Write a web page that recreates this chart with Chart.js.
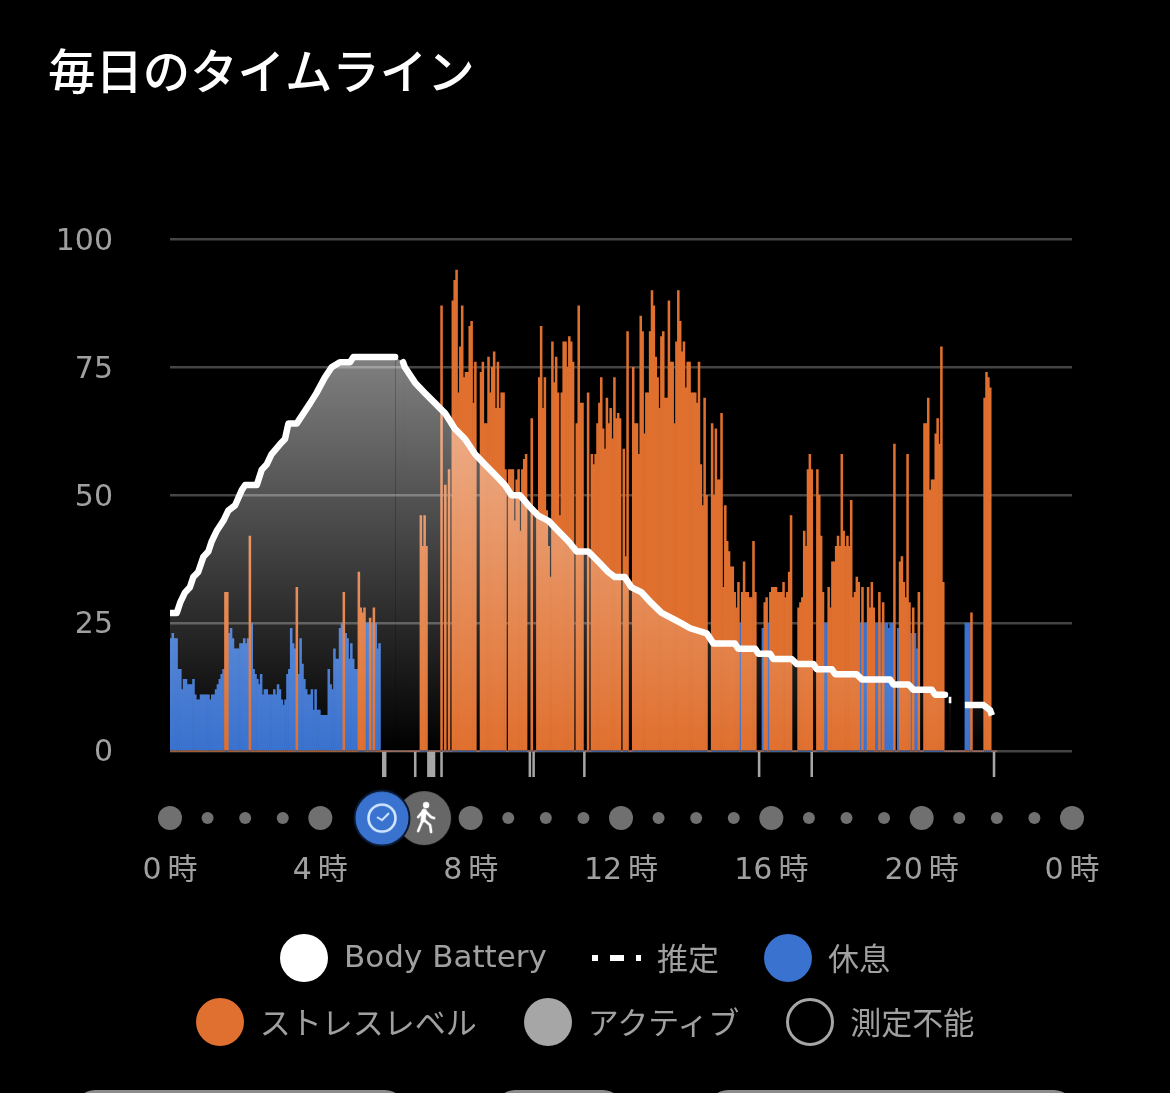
<!DOCTYPE html>
<html lang="ja">
<head>
<meta charset="utf-8">
<title>毎日のタイムライン</title>
<script src="https://cdn.jsdelivr.net/npm/chart.js@4/dist/chart.umd.min.js"></script>
<style>
  html, body { margin: 0; padding: 0; background: #000; }
  #page { position: relative; width: 1170px; height: 1093px; overflow: hidden; background: #000; }
  #chart { position: absolute; left: 0; top: 0; }
  .legend-row { position: absolute; left: 0; width: 1170px; display: flex; justify-content: center; align-items: center; gap: 47px; height: 48px;
    font: 31px "DejaVu Sans", "Noto Sans CJK JP", sans-serif; color: #a0a0a0; white-space: nowrap; }
  #legendRow1 { gap: 45px; }
  .legend-item { display: flex; align-items: center; gap: 16px; }
  .legend-item span { position: relative; top: -2px; }
  .legend-dot { width: 48px; height: 48px; border-radius: 50%; box-sizing: border-box; }
  .legend-dash { display: flex; align-items: center; width: 49px; justify-content: space-between; }
  .legend-dash i { display: block; height: 6px; background: #fff; }
  .pill { position: absolute; top: 1090px; height: 40px; border-radius: 24px; background: #8c8c8c; }
</style>
</head>
<body>
<div id="page">
  <canvas id="chart" width="1170" height="1093"></canvas>
  <div class="legend-row" id="legendRow1" style="top:934px"></div>
  <div class="legend-row" id="legendRow2" style="top:998px"></div>
  <div class="pill" style="left:75px;width:330px"></div>
  <div class="pill" style="left:495px;width:128px"></div>
  <div class="pill" style="left:708px;width:366px"></div>
</div>
<script>
// Chart values, one row per hour, one value every 3 minutes
const stressValues = [
  0,0,0,0,0,0,0,0,0,0,0,0,0,0,0,0,0,0,0,0,
  0,0,0,0,0,0,0,0,0,31,31,0,0,0,0,0,0,0,0,0,
  0,0,42,0,0,0,0,0,0,0,0,0,0,0,0,0,0,0,0,0,
  0,0,0,0,0,0,0,32,0,0,0,0,0,0,0,0,0,0,0,0,
  0,0,0,0,0,0,0,0,0,0,0,0,31,0,0,0,0,0,0,0,
  35,28,27,28,0,0,26,0,28,0,0,0,0,0,0,0,0,0,0,0,
  0,0,0,0,0,0,0,0,0,0,0,0,0,46,40,46,40,0,0,0,
  0,0,0,0,87,0,52,0,55,0,88,92,94,70,79,87,73,74,74,83,
  84,68,76,0,0,74,76,64,64,77,70,75,78,67,76,67,70,70,55,0,
  55,55,55,45,53,55,43,55,57,58,0,0,65,0,0,47,73,83,67,73,
  47,40,34,80,72,77,70,46,70,80,80,75,81,80,76,0,64,87,68,68,
  0,0,70,0,58,56,58,64,68,73,63,59,69,64,67,61,73,65,66,65,
  0,59,38,82,0,0,75,64,64,58,85,82,62,70,70,82,90,87,77,73,
  67,81,82,69,69,88,76,76,64,80,90,84,78,80,71,76,76,70,70,70,
  68,76,56,48,69,50,0,0,64,50,63,53,53,66,32,48,41,39,36,36,
  31,28,33,0,31,37,31,31,30,30,41,31,0,0,0,0,29,30,0,31,
  32,32,32,31,31,31,33,30,31,35,46,0,0,0,28,29,30,43,40,55,
  58,55,0,0,55,50,42,31,0,0,32,28,37,37,40,42,40,58,43,40,
  42,40,49,30,31,34,33,0,32,0,0,32,28,33,28,0,0,31,0,29,
  0,0,0,0,0,60,0,0,37,38,33,30,58,29,0,28,0,0,31,0,
  0,64,64,69,51,53,53,62,65,60,79,33,0,0,0,0,0,0,0,0,
  0,0,0,0,0,0,27,0,0,0,0,0,0,69,74,73,71,0,0,0
];

const restValues = [
  22,23,22,22,16,16,12,14,14,13,13,13,14,11,10,10,11,11,11,11,
  11,10,11,11,12,13,14,15,16,0,0,23,24,22,20,20,20,21,21,22,
  21,22,0,25,16,15,14,13,15,11,12,12,11,11,11,12,11,13,12,10,
  9,10,15,16,24,21,20,0,15,22,17,14,12,11,11,12,8,12,8,8,
  7,7,7,7,16,13,12,20,18,18,24,25,0,23,22,18,21,18,16,16,
  0,0,0,0,25,25,0,25,0,25,20,21,0,0,0,0,0,0,0,0,
  0,0,0,0,0,0,0,0,0,0,0,0,0,0,0,0,0,0,0,0,
  0,0,0,0,0,0,0,0,0,0,0,0,0,0,0,0,0,0,0,0,
  0,0,0,0,0,0,0,0,0,0,0,0,0,0,0,0,0,0,0,0,
  0,0,0,0,0,0,0,0,0,0,0,0,0,0,0,0,0,0,0,0,
  0,0,0,0,0,0,0,0,0,0,0,0,0,0,0,0,0,0,0,0,
  0,0,0,0,0,0,0,0,0,0,0,0,0,0,0,0,0,0,0,0,
  0,0,0,0,0,0,0,0,0,0,0,0,0,0,0,0,0,0,0,0,
  0,0,0,0,0,0,0,0,0,0,0,0,0,0,0,0,0,0,0,0,
  0,0,0,0,0,0,0,0,0,0,0,0,0,0,0,0,0,0,0,0,
  0,0,0,25,0,0,0,0,0,0,0,0,0,0,0,24,0,0,25,0,
  0,0,0,0,0,0,0,0,0,0,0,0,0,0,0,0,0,0,0,0,
  0,0,0,0,0,0,0,0,25,25,0,0,0,0,0,0,0,0,0,0,
  0,0,0,0,0,0,0,25,0,25,25,0,0,0,0,25,25,0,25,0,
  25,25,24,25,25,0,0,24,0,0,0,0,0,0,23,0,23,20,0,0,
  0,0,0,0,0,0,0,0,0,0,0,0,0,0,0,0,0,0,0,0,
  0,0,0,25,25,25,0,0,0,0,0,0,0,0,0,0,0,0,0,0
];

// Body Battery line
const batteryHours = [0,0.18,0.27,0.4,0.53,0.62,0.75,0.89,1.02,1.11,1.24,1.42,1.55,1.73,1.91,2,2.31,2.44,2.57,2.7,2.93,3.06,3.15,3.37,3.55,3.73,3.9,4.12,4.3,4.52,4.79,4.88,5.99,6.2,6.25,6.52,6.78,7.05,7.32,7.58,7.85,8.12,8.38,8.65,8.91,9.09,9.31,9.54,9.8,10.07,10.33,10.6,10.82,11.13,11.4,11.66,11.84,12.1,12.28,12.55,12.8,13.08,13.35,13.6,13.84,14.28,14.46,15.03,15.12,15.57,15.66,15.97,16.05,16.54,16.68,17.12,17.21,17.61,17.7,18.27,18.41,19.16,19.25,19.65,19.78,20.27,20.36,20.62];
const batteryValues = [27,27,29,31,32,34,35,38,39,41,43,45,47,48,51,52,52,55,56,58,60,61,64,64,66,68,70,73,75,76,76,77,77,76,75,72,70,68,66,63,61,58,56,54,52,50,50,48,46,45,43,41,39,39,37,35,34,34,32,31,29,27,26,25,24,23,21,21,20,20,19,19,18,18,17,17,16,16,15,15,14,14,13,13,12,12,11,11];
const batteryGapStart = 5.99;
const estimateHours = [20.72,20.79,21,21.15,21.2,21.64,21.82,21.87];
const estimateValues = [10,10,null,9,9,9,8,7];

// Activity ticks under the axis, and the timeline row below them
const activeBins = [113,114,130,137,138,139,140,144,191,193,220,313,341,438];
const activeLevel = -5;
const timelineLevel = -13.1;
const bigDotHours = [0,4,8,12,16,20,24];
const smallDotHours = [1,2,3,9,10,11,13,14,15,17,18,19,21,22,23];
const iconHours = [6.76,5.64];

const yTickValues = [0,25,50,75,100];
const hourStep = 0.05;

const legendRows = [
  [{ label: 'Body Battery', color: '#fff' }, { label: '推定', dash: true }, { label: '休息', color: '#3a72cf' }],
  [{ label: 'ストレスレベル', color: '#e0702f' }, { label: 'アクティブ', color: '#a6a6a6' }, { label: '測定不能', ring: '#a6a6a6' }]
];

// Helpers
function binPoints(values) {
  return values.map((value, i) => ({ x: (i + 0.5) * hourStep, y: value }));
}

function linePoints(hours, values) {
  return hours.map((hour, i) => ({ x: hour, y: values[i] }));
}

function levelPoints(hours, level) {
  return hours.map((hour) => ({ x: hour, y: level }));
}

// White fade under the Body Battery line
function batteryFill(context) {
  const { ctx, chartArea, scales } = context.chart;
  if (!chartArea) return 'rgba(255,255,255,0.3)';
  const gradient = ctx.createLinearGradient(0, scales.y.getPixelForValue(77), 0, scales.y.getPixelForValue(0));
  gradient.addColorStop(0, 'rgba(255,255,255,0.5)');
  gradient.addColorStop(1, 'rgba(255,255,255,0)');
  return gradient;
}

// Round timeline icons
function makeIconCanvas(draw) {
  const icon = document.createElement('canvas');
  icon.width = 58;
  icon.height = 58;
  const ctx = icon.getContext('2d');
  ctx.translate(29, 29);
  draw(ctx);
  return icon;
}

const walkIcon = makeIconCanvas((ctx) => {
  ctx.fillStyle = '#676767';
  ctx.beginPath();
  ctx.arc(0, 0, 27, 0, Math.PI * 2);
  ctx.fill();
  ctx.fillStyle = '#fff';
  ctx.strokeStyle = '#fff';
  ctx.lineCap = 'round';
  ctx.lineJoin = 'round';
  ctx.beginPath();
  ctx.arc(2, -13, 3.2, 0, Math.PI * 2);
  ctx.fill();
  ctx.lineWidth = 5;
  ctx.beginPath();
  ctx.moveTo(0, -7);
  ctx.lineTo(-1, 2);
  ctx.stroke();
  ctx.lineWidth = 2.6;
  ctx.beginPath();
  ctx.moveTo(-1, 1);
  ctx.lineTo(-6, 13);
  ctx.moveTo(-1, 1);
  ctx.lineTo(6, 7);
  ctx.lineTo(7, 14);
  ctx.moveTo(1, -7);
  ctx.lineTo(7, -1);
  ctx.lineTo(10, 0);
  ctx.moveTo(-1, -7);
  ctx.lineTo(-6, -1);
  ctx.stroke();
});

const clockIcon = makeIconCanvas((ctx) => {
  ctx.fillStyle = '#3a72cf';
  ctx.strokeStyle = '#0b1a33';
  ctx.lineWidth = 2;
  ctx.beginPath();
  ctx.arc(0, 0, 27.5, 0, Math.PI * 2);
  ctx.fill();
  ctx.stroke();
  ctx.strokeStyle = '#cfe6ff';
  ctx.lineWidth = 2.6;
  ctx.beginPath();
  ctx.arc(0, 0, 13.5, 0, Math.PI * 2);
  ctx.stroke();
  ctx.lineWidth = 2;
  ctx.beginPath();
  ctx.moveTo(-5, -1);
  ctx.lineTo(0, 2);
  ctx.lineTo(7, -5);
  ctx.stroke();
});

// Legend
function buildLegend() {
  legendRows.forEach((row, r) => {
    const rowElement = document.getElementById('legendRow' + (r + 1));
    row.forEach((entry) => {
      const item = document.createElement('div');
      item.className = 'legend-item';
      let marker;
      if (entry.dash) {
        marker = document.createElement('div');
        marker.className = 'legend-dash';
        marker.innerHTML = '<i style="width:6px"></i><i style="width:14px"></i><i style="width:5px"></i>';
      } else {
        marker = document.createElement('div');
        marker.className = 'legend-dot';
        if (entry.ring) marker.style.border = '3px solid ' + entry.ring;
        else marker.style.background = entry.color;
      }
      const text = document.createElement('span');
      text.textContent = entry.label;
      item.appendChild(marker);
      item.appendChild(text);
      rowElement.appendChild(item);
    });
  });
}

buildLegend();

const axisFont = { family: '"DejaVu Sans", "Noto Sans CJK JP", sans-serif', size: 30 };

new Chart(document.getElementById('chart').getContext('2d'), {
  data: {
    datasets: [
      {
        type: 'line',
        label: 'Body Battery',
        data: linePoints(batteryHours, batteryValues),
        borderColor: '#fff',
        borderWidth: 6.5,
        borderCapStyle: 'round',
        borderJoinStyle: 'round',
        backgroundColor: batteryFill,
        fill: 'origin',
        tension: 0,
        pointRadius: 0,
        // the line breaks for a moment here but the area under it does not
        segment: { borderColor: (ctx) => (ctx.p0.parsed.x === batteryGapStart ? 'transparent' : undefined) },
        order: 0
      },
      {
        type: 'line',
        label: '推定',
        data: linePoints(estimateHours, estimateValues),
        borderColor: '#fff',
        borderWidth: 6.5,
        backgroundColor: batteryFill,
        fill: 'origin',
        tension: 0,
        pointRadius: 0,
        order: 0
      },
      {
        type: 'bar',
        label: 'ストレスレベル',
        data: binPoints(stressValues),
        backgroundColor: '#e0702f',
        order: 2
      },
      {
        type: 'bar',
        label: '休息',
        data: binPoints(restValues),
        backgroundColor: '#3a72cf',
        order: 3
      },
      {
        type: 'bar',
        label: 'アクティブ',
        data: activeBins.map((bin) => ({ x: (bin + 0.5) * hourStep, y: activeLevel })),
        backgroundColor: '#a6a6a6',
        order: 3
      },
      {
        type: 'line',
        label: 'timeline4h',
        data: levelPoints(bigDotHours, timelineLevel),
        showLine: false,
        pointRadius: 12,
        pointBackgroundColor: '#707070',
        pointBorderWidth: 0,
        clip: false,
        order: 1
      },
      {
        type: 'line',
        label: 'timeline1h',
        data: levelPoints(smallDotHours, timelineLevel),
        showLine: false,
        pointRadius: 6,
        pointBackgroundColor: '#707070',
        pointBorderWidth: 0,
        clip: false,
        order: 1
      },
      {
        type: 'line',
        label: 'events',
        data: levelPoints(iconHours, timelineLevel),
        showLine: false,
        pointStyle: [walkIcon, clockIcon],
        clip: false,
        order: -1
      }
    ]
  },
  options: {
    responsive: false,
    animation: false,
    events: [],
    layout: { padding: { left: 48, right: 98, top: 0, bottom: 0 } },
    datasets: { bar: { barPercentage: 1, categoryPercentage: 1, grouped: false, borderWidth: 0 } },
    plugins: {
      legend: { display: false },
      tooltip: { enabled: false },
      title: {
        display: true,
        text: '毎日のタイムライン',
        align: 'start',
        color: '#fff',
        font: { family: '"Noto Sans CJK JP", sans-serif', size: 47.4, weight: '500', lineHeight: 1.2 },
        padding: { top: 43, bottom: 139.5 }
      }
    },
    scales: {
      x: {
        type: 'linear',
        min: 0,
        max: 24,
        offset: false,
        grid: { display: false, drawTicks: false },
        border: { display: false },
        afterFit: (axis) => { axis.height = 1093 - 848.3; },
        ticks: {
          stepSize: 4,
          autoSkip: false,
          maxRotation: 0,
          color: '#a0a0a0',
          font: axisFont,
          padding: 5,
          callback: (value) => (value % 24) + '\u2009時'
        }
      },
      y: {
        min: -19,
        max: 100,
        grid: { color: '#454545', lineWidth: 2.5, drawTicks: false },
        border: { display: false },
        afterFit: (axis) => { axis.width = 122; },
        afterBuildTicks: (axis) => { axis.ticks = yTickValues.map((value) => ({ value })); },
        ticks: { color: '#a0a0a0', font: axisFont, padding: 57, labelOffset: 2.5 }
      }
    }
  }
});
</script>
</body>
</html>
